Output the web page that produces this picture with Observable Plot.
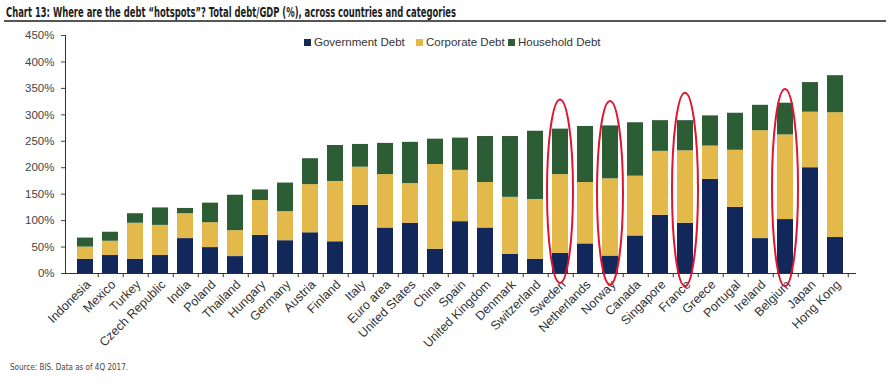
<!DOCTYPE html>
<html>
<head>
<meta charset="utf-8">
<script src="https://cdn.jsdelivr.net/npm/d3@7"></script>
<script src="https://cdn.jsdelivr.net/npm/@observablehq/plot@0.6"></script>
<style>
  html, body { margin: 0; padding: 0; background: #fff; }
  #wrap { position: relative; width: 890px; height: 384px; overflow: hidden; background: #fff; }
  #title { position: absolute; left: 6px; top: 4px; white-space: nowrap; font-family: "Liberation Sans Narrow", "DejaVu Sans Condensed", "Liberation Sans", sans-serif; font-weight: bold; font-size: 14px; color: #1d1d1d; transform-origin: 0 0; }
  #rule { position: absolute; left: 4px; top: 20px; width: 882px; height: 1.5px; background: #555; }
  #chart { position: absolute; left: 0; top: 25px; }
  #legend { position: absolute; left: 0; top: 36px; font-family: "Liberation Sans", Arial, sans-serif; font-size: 11.5px; color: #333; }
  .item { position: absolute; top: 0; white-space: nowrap; display: flex; align-items: center; }
  .sw { width: 7px; height: 7px; margin-right: 3px; }
  #source { position: absolute; left: 10px; top: 362px; white-space: nowrap; font-family: "Liberation Sans Narrow", "DejaVu Sans Condensed", "Liberation Sans", sans-serif; font-size: 9px; color: #444; transform-origin: 0 0; }
</style>
</head>
<body>
<div id="wrap">
  <div id="title">Chart 13: Where are the debt “hotspots”? Total debt/GDP (%), across countries and categories</div>
  <div id="rule"></div>
  <div id="chart"></div>
  <div id="legend"></div>
  <div id="source">Source: BIS. Data as of 4Q 2017.</div>
</div>
<script>
const countries = ["Indonesia","Mexico","Turkey","Czech Republic","India","Poland","Thailand","Hungary","Germany","Austria","Finland","Italy","Euro area","United States","China","Spain","United Kingdom","Denmark","Switzerland","Sweden","Netherlands","Norway","Canada","Singapore","France","Greece","Portugal","Ireland","Belgium","Japan","Hong Kong"];
const government = [27,34,27,34,66,49,32,72,62,77,60,129,86,95,46,98,86,36,27,38,56,33,71,110,95,178,125,66,102,200,68];
const corporate  = [23,27,68,57,47,47,49,66,55,91,114,72,101,75,160,97,86,108,113,149,116,146,113,121,137,63,108,204,160,105,236];
const household  = [17,17,18,33,10,37,67,20,54,49,68,43,59,78,48,61,87,115,129,86,106,100,101,58,57,57,70,48,60,56,70];
const categories = ["Government Debt","Corporate Debt","Household Debt"];
const colors = ["#13285a","#e4b94b","#2c5d34"];
const yTicks = [0,50,100,150,200,250,300,350,400,450];
const highlighted = ["Sweden","Norway","France","Belgium"];
const ellipseTop = [328,325,341,348];
const ellipseBottom = [-19,-22,-25,-25];

const series = [government, corporate, household];
const data = countries.flatMap((c, i) => categories.map((cat, k) => ({country: c, category: cat, value: series[k][i]})));
const rings = highlighted.map((c, i) => ({country: c, top: ellipseTop[i], bottom: ellipseBottom[i]}));

const W = 890, ML = 65, MR = 34;
const pIn = 0.35, pOut = 0.2;
const step = (W - ML - MR) / (countries.length - pIn + 2 * pOut);

const chart = Plot.plot({
  width: W, height: 335,
  marginTop: 10, marginLeft: ML, marginRight: MR, marginBottom: 87,
  style: {fontFamily: "Liberation Sans, Arial, sans-serif", fontSize: "11px", background: "transparent", overflow: "visible"},
  x: {domain: countries, paddingInner: pIn, paddingOuter: pOut, label: null, axis: null},
  y: {domain: [0, 450], label: null, axis: null},
  color: {domain: categories, range: colors},
  marks: [
    Plot.barY(data, {x: "country", y: "value", fill: "category"}),
    Plot.ruleY([0], {stroke: "#333"}),
    Plot.frame({anchor: "left", stroke: "#333"}),
    Plot.ruleX(countries, {x: d => d, y1: 0, y2: -8, dx: step / 2, stroke: "#333"}),
    Plot.axisY({ticks: yTicks, tickFormat: d => d + "%", tickSize: 4, tickPadding: 7, color: "#444", fontSize: 11.5}),
    Plot.axisX({tickSize: 0, tickPadding: 9, dx: 3, tickRotate: -45, color: "#333", fontSize: 12.5}),
    Plot.barY(rings, {x: "country", y1: "bottom", y2: "top", fill: "none", stroke: "#e0142f", strokeWidth: 2, insetLeft: -5, insetRight: -5, rx: 100, ry: 300})
  ]
});
document.getElementById("chart").appendChild(chart);

const legend = document.getElementById("legend");
const legendLeft = [304, 416, 508];
categories.forEach((cat, k) => {
  const it = document.createElement("div");
  it.className = "item";
  it.style.left = legendLeft[k] + "px";
  const sw = document.createElement("div");
  sw.className = "sw";
  sw.style.background = colors[k];
  const tx = document.createElement("span");
  tx.textContent = cat;
  it.appendChild(sw); it.appendChild(tx);
  legend.appendChild(it);
});

function fit(id, target) {
  const el = document.getElementById(id);
  const w = el.getBoundingClientRect().width;
  if (w > 0) el.style.transform = "scaleX(" + (target / w) + ")";
}
fit("title", 450);
fit("source", 118);
</script>
</body>
</html>
